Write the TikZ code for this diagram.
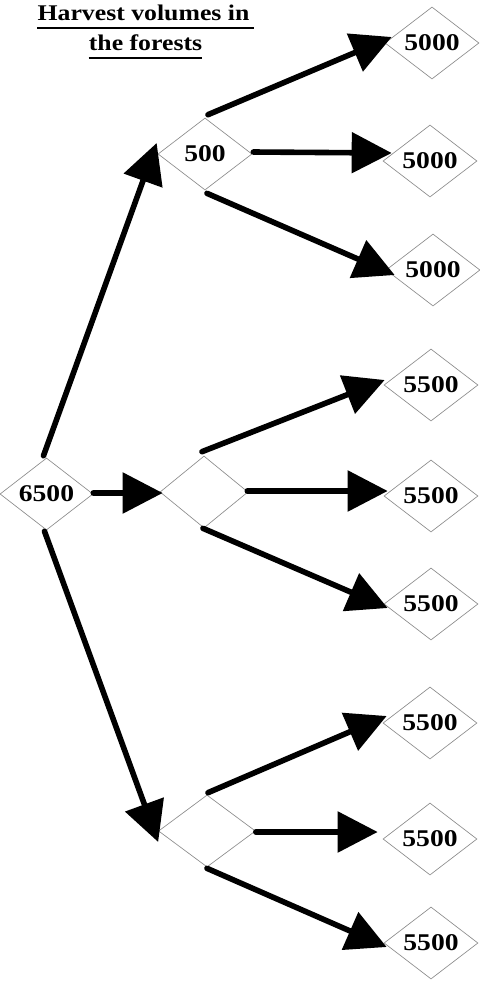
\documentclass[tikz,border=0pt]{standalone}
\usepackage{fontspec}
\setmainfont{Liberation Serif}[FakeStretch=1.15]
\usetikzlibrary{shapes.geometric,arrows.meta,calc}
\begin{document}
\begin{tikzpicture}[x=0.75pt,y=-0.75pt,
  dia/.style={diamond,draw=gray!90,line width=0.5pt,inner sep=0pt,
    minimum width=94*0.75pt,minimum height=72*0.75pt,
    font=\fontsize{18}{20}\selectfont\bfseries},
  arr/.style={line width=4.2pt,line cap=round,-{Triangle[length=30pt,width=30pt]}},
  ttl/.style={inner sep=0pt,anchor=base,font=\fontsize{16.8}{18}\selectfont\bfseries},
  ul/.style={line width=1.6pt}]
\useasboundingbox (0,0) rectangle (479,982);
% title
\node[ttl] (t1) at (143.5,20) {Harvest volumes in};
\node[ttl] (t2) at (145.5,50) {the forests};
\draw[ul] ($(t1.base west)+(0,8)$) -- ($(t1.base east)+(4,8)$);
\draw[ul] ($(t2.base west)+(0,8)$) -- ($(t2.base east)+(0,8)$);
% nodes
\node[dia,minimum width=93*0.75pt] (r) at (46.5,494) {6500};
\node[dia] (a) at (205,154) {500};
\node[dia,minimum width=88*0.75pt] (b) at (204,492) {};
\node[dia,minimum width=97*0.75pt] (c) at (207,831) {};
\node[dia] (l1) at (432,43) {5000};
\node[dia] (l2) at (430,161) {5000};
\node[dia] (l3) at (433,270) {5000};
\node[dia] (l4) at (431,385) {5500};
\node[dia] (l5) at (431,496) {5500};
\node[dia] (l6) at (431,604) {5500};
\node[dia] (l7) at (430,723) {5500};
\node[dia] (l8) at (430,839) {5500};
\node[dia] (l9) at (431,943) {5500};
% connectors
\draw[arr] ($(r.north)+(-3,-2)$) -- ($(a.west)+(-1,-11)$);
\draw[arr] ($(r.east)+(0,-1)$) -- ($(b.west)+(3,1)$);
\draw[arr] ($(r.south)+(-2,1)$) -- ($(c.west)+(0,11)$);
\draw[arr] ($(a.north)+(3,-3)$) -- ($(l1.west)+(7,-6)$);
\draw[arr] ($(a.east)+(1,-2)$) -- ($(l2.west)+(9,-8)$);
\draw[arr] ($(a.south)+(2,3)$) -- ($(l3.west)+(9,5)$);
\draw[arr] ($(b.north)+(-2,-4)$) -- ($(l4.west)+(1,-5)$);
\draw[arr] ($(b.east)+(-1,-1)$) -- ($(l5.west)+(4,-5)$);
\draw[arr] ($(b.south)+(-1,0)$) -- ($(l6.west)+(4,4)$);
\draw[arr] ($(c.north)+(1,-2)$) -- ($(l7.west)+(4,-7)$);
\draw[arr] ($(c.east)+(0,1)$) -- ($(l8.west)+(-5,-7)$);
\draw[arr] ($(c.south)+(0,1)$) -- ($(l9.west)+(3,4)$);
\end{tikzpicture}
\end{document}
